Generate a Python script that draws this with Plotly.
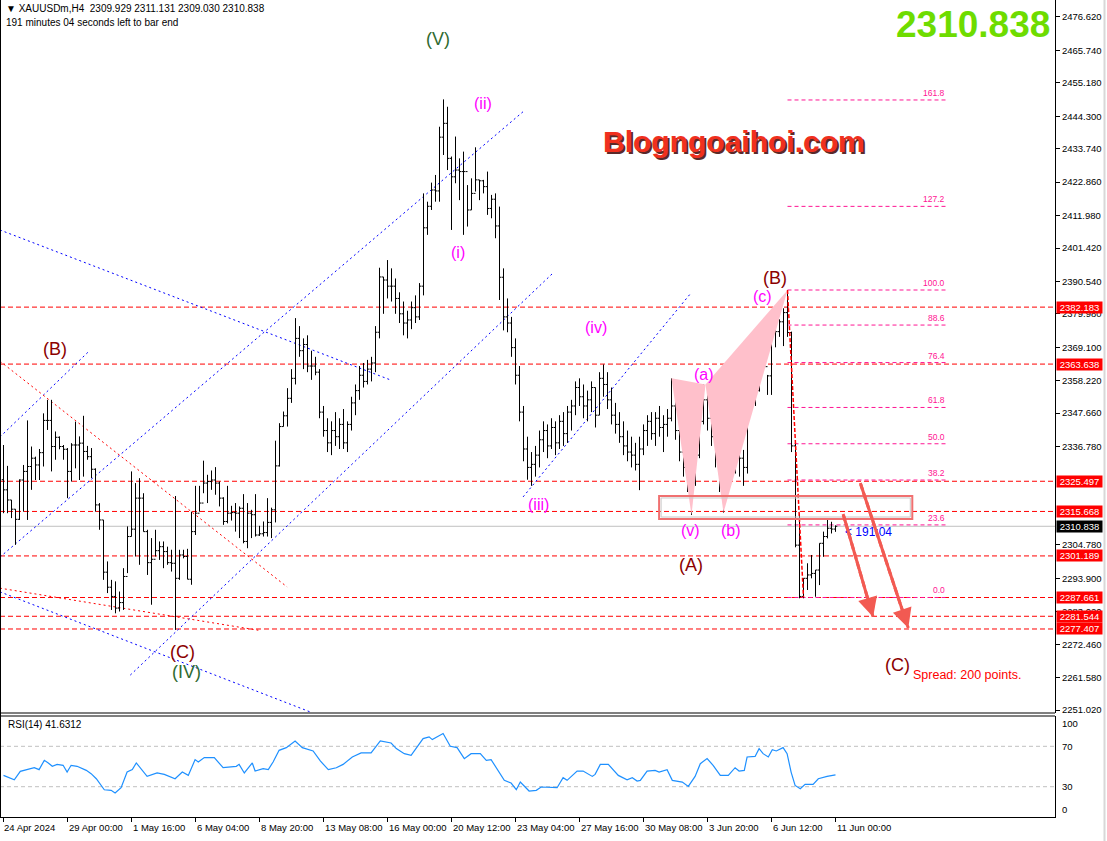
import plotly.graph_objects as go

# ---------------- DATA ----------------
highs = [2337.3, 2330.5, 2319.4, 2316.4, 2326.1, 2330.8, 2345.3, 2336.8, 2333.5, 2336.0,
         2347.6, 2352.0, 2352.0, 2341.7, 2340.1, 2337.3, 2336.3, 2337.9, 2344.9, 2340.1,
         2346.8, 2337.0, 2336.3, 2329.7, 2318.4, 2312.9, 2299.4, 2293.4, 2292.9, 2289.6,
         2297.2, 2310.8, 2328.7, 2324.9, 2326.5, 2321.6, 2309.7, 2307.0, 2309.7, 2305.9,
         2305.9, 2304.2, 2303.2, 2320.7, 2303.2, 2303.2, 2303.5, 2315.6, 2324.0, 2324.0,
         2332.2, 2327.6, 2329.0, 2330.1, 2325.4, 2320.3, 2324.0, 2317.5, 2318.4, 2317.3,
         2321.3, 2318.4, 2316.2, 2321.3, 2311.0, 2312.4, 2320.0, 2316.9, 2338.7, 2344.4,
         2348.2, 2355.8, 2362.0, 2378.6, 2376.0, 2372.0, 2373.0, 2368.0, 2366.0, 2362.0,
         2350.0, 2346.0, 2345.0, 2348.0, 2346.0, 2349.0, 2345.0, 2353.0, 2357.0, 2363.0,
         2364.0, 2365.0, 2366.0, 2376.0, 2395.0, 2392.0, 2397.5, 2394.8, 2391.5, 2387.0,
         2384.0, 2381.0, 2384.0, 2386.0, 2390.0, 2419.2, 2416.5, 2422.7, 2425.2, 2440.9,
         2449.8, 2447.4, 2431.2, 2437.7, 2430.6, 2432.8, 2421.9, 2424.1, 2434.2, 2423.6,
         2423.6, 2426.3, 2418.7, 2419.2, 2414.9, 2394.8, 2385.0, 2379.0, 2372.0, 2363.0,
         2350.0, 2340.0, 2335.0, 2337.0, 2342.0, 2345.0, 2344.0, 2346.0, 2345.0, 2347.0,
         2348.0, 2350.0, 2352.0, 2358.0, 2359.0, 2357.0, 2355.0, 2358.0, 2356.0, 2361.0,
         2363.5, 2361.0, 2356.0, 2351.0, 2348.0, 2345.0, 2342.0, 2340.0, 2338.0, 2340.0,
         2344.0, 2347.0, 2348.0, 2348.0, 2350.0, 2347.0, 2349.0, 2359.0, 2352.0, 2345.0,
         2338.0, 2334.0, 2331.0, 2337.0, 2347.0, 2357.0, 2355.0, 2351.0, 2345.0, 2337.0,
         2332.0, 2335.0, 2341.0, 2339.0, 2338.0, 2335.7, 2357.4, 2356.8, 2357.0, 2374.7,
         2368.4, 2360.1, 2378.5, 2377.7, 2378.2, 2381.8, 2387.7, 2374.2, 2338.9, 2315.0,
         2293.9, 2298.8, 2301.5, 2296.6, 2305.3, 2309.1, 2313.4, 2312.3, 2311.131]
lows = [2315.1, 2315.1, 2313.5, 2304.8, 2312.9, 2315.6, 2312.9, 2322.7, 2325.9, 2325.9,
        2330.3, 2342.2, 2328.7, 2332.5, 2335.9, 2332.5, 2320.0, 2325.4, 2329.7, 2325.9,
        2327.0, 2332.5, 2326.5, 2315.6, 2309.7, 2293.4, 2289.1, 2283.6, 2282.5, 2283.1,
        2283.6, 2295.6, 2307.5, 2301.0, 2298.3, 2309.1, 2295.0, 2285.3, 2301.0, 2299.9,
        2297.2, 2298.3, 2296.1, 2277.1, 2293.4, 2300.4, 2293.6, 2291.8, 2308.0, 2315.6,
        2321.6, 2318.4, 2322.7, 2321.1, 2317.3, 2311.3, 2311.8, 2312.7, 2309.1, 2307.0,
        2305.3, 2303.7, 2307.0, 2307.5, 2307.7, 2307.5, 2307.5, 2307.0, 2312.1, 2330.3,
        2343.3, 2343.3, 2351.0, 2357.0, 2366.0, 2362.0, 2361.0, 2358.5, 2360.0, 2346.0,
        2340.0, 2335.0, 2334.0, 2337.0, 2336.0, 2336.0, 2335.0, 2342.0, 2347.0, 2352.0,
        2356.0, 2357.0, 2358.0, 2361.0, 2372.0, 2380.0, 2385.0, 2384.0, 2380.0, 2377.0,
        2373.0, 2372.0, 2375.0, 2377.0, 2378.0, 2386.0, 2405.7, 2413.8, 2416.5, 2416.5,
        2431.7, 2426.8, 2407.3, 2422.5, 2417.0, 2405.7, 2408.4, 2413.8, 2419.8, 2417.0,
        2419.2, 2412.2, 2411.1, 2404.6, 2384.5, 2374.6, 2374.0, 2366.0, 2357.0, 2345.0,
        2332.0, 2326.0, 2324.0, 2327.0, 2330.0, 2335.0, 2333.0, 2336.0, 2334.0, 2336.0,
        2337.0, 2338.0, 2342.0, 2347.0, 2350.0, 2346.0, 2345.0, 2348.0, 2343.0, 2347.0,
        2353.0, 2349.0, 2344.0, 2341.0, 2338.0, 2334.0, 2332.0, 2330.0, 2329.0, 2322.6,
        2334.0, 2337.0, 2339.0, 2337.0, 2340.0, 2335.0, 2340.0, 2345.0, 2339.0, 2332.0,
        2327.0, 2322.0, 2314.5, 2324.0, 2333.0, 2344.0, 2342.0, 2337.0, 2330.0, 2322.0,
        2315.3, 2325.0, 2329.0, 2328.0, 2327.0, 2324.0, 2328.0, 2352.0, 2350.0, 2354.7,
        2361.7, 2353.6, 2353.6, 2369.1, 2372.5, 2369.5, 2372.5, 2335.0, 2304.0, 2287.4,
        2287.4, 2290.1, 2293.9, 2287.9, 2291.7, 2300.9, 2306.9, 2308.5, 2309.03]
closes = [2322.7, 2319.4, 2316.4, 2313.1, 2325.9, 2328.7, 2330.3, 2333.0, 2330.8, 2334.8,
          2345.3, 2345.3, 2336.8, 2339.8, 2336.8, 2335.9, 2328.7, 2337.3, 2337.3, 2337.9,
          2335.2, 2333.5, 2329.4, 2317.8, 2312.9, 2295.9, 2291.0, 2288.0, 2284.2, 2286.0,
          2294.5, 2307.5, 2309.9, 2320.0, 2320.0, 2309.1, 2299.0, 2300.1, 2302.9, 2304.2,
          2302.6, 2299.0, 2298.8, 2293.9, 2301.5, 2301.0, 2293.6, 2309.1, 2315.1, 2318.4,
          2324.9, 2325.4, 2325.9, 2324.9, 2320.0, 2312.4, 2315.1, 2315.3, 2315.1, 2316.7,
          2305.9, 2315.1, 2314.6, 2308.0, 2308.4, 2308.8, 2312.1, 2316.2, 2330.5, 2343.3,
          2346.8, 2352.5, 2359.0, 2372.0, 2368.0, 2370.0, 2363.0, 2363.0, 2361.0, 2348.0,
          2342.0, 2338.0, 2342.0, 2340.0, 2344.0, 2338.0, 2344.0, 2351.0, 2355.0, 2360.0,
          2358.0, 2362.0, 2364.0, 2374.0, 2392.0, 2391.0, 2389.0, 2389.0, 2385.0, 2380.0,
          2377.0, 2378.0, 2382.0, 2379.0, 2389.0, 2408.0, 2415.0, 2420.3, 2420.0, 2437.5,
          2442.0, 2430.6, 2424.6, 2426.8, 2426.3, 2426.3, 2413.8, 2419.2, 2423.6, 2423.3,
          2421.4, 2414.3, 2417.3, 2408.6, 2391.9, 2379.0, 2377.0, 2369.0, 2360.0, 2348.0,
          2336.0, 2330.0, 2331.0, 2334.0, 2339.0, 2342.0, 2337.0, 2343.0, 2338.0, 2345.0,
          2341.0, 2348.0, 2350.0, 2356.0, 2353.0, 2350.0, 2352.0, 2356.0, 2347.0, 2359.0,
          2357.0, 2352.0, 2347.0, 2344.0, 2340.0, 2337.0, 2335.0, 2334.0, 2331.0, 2336.0,
          2342.0, 2345.0, 2341.0, 2346.0, 2343.0, 2344.0, 2346.0, 2350.0, 2342.0, 2335.0,
          2330.0, 2328.0, 2325.0, 2334.0, 2345.0, 2352.0, 2346.0, 2340.0, 2333.0, 2325.0,
          2327.0, 2332.0, 2337.0, 2333.0, 2333.0, 2330.0, 2353.6, 2354.0, 2355.0, 2368.4,
          2362.8, 2359.8, 2374.5, 2374.2, 2377.4, 2380.4, 2373.9, 2337.0, 2304.7, 2288.0,
          2293.9, 2295.0, 2295.5, 2296.6, 2305.3, 2307.5, 2310.2, 2309.929, 2310.838]
first_open = 2326.0
opens = [first_open] + closes[:-1]
bars = list(range(len(closes)))

# RSI(14) line, read as (bar index, value) points
rsi_bar = [0, 2.7, 4.2, 6.4, 7.7, 8.9, 10.2, 11.2, 12.2, 13.4, 14.9, 15.9, 16.9, 18.4, 20.7,
           21.9, 23.2, 25.2, 26.9, 27.9, 29.4, 30.9, 32.2, 33.2, 34.4, 35.9, 38.4, 40.2, 42.9,
           44.7, 46.2, 47.9, 48.7, 50.2, 52.7, 54.9, 58.2, 58.9, 60.2, 62.2, 62.9, 64.9, 66.2,
           67.4, 68.9, 70.7, 72.9, 74.7, 77.4, 79.2, 81.2, 83.2, 84.9, 87.2, 89.4, 91.9, 94.2,
           95.7, 96.9, 98.2, 100.2, 101.9, 104.9, 106.4, 107.2, 109.9, 111.7, 113.4, 115.2,
           116.9, 119.2, 120.7, 121.9, 125.2, 126.9, 128.2, 129.2, 131.4, 133.2, 134.4, 138.4,
           139.9, 140.9, 143.4, 144.9, 147.2, 147.9, 149.2, 151.2, 153.7, 155.9, 157.2, 158.4,
           159.2, 160.9, 162.9, 163.9, 165.9, 167.2, 169.7, 171.2, 172.9, 174.2, 175.9, 177.4,
           179.2, 181.2, 182.9, 183.9, 185.2, 185.9, 187.9, 188.9, 189.9, 191.2, 192.2, 193.2,
           194.9, 195.9, 196.9, 197.9, 199.2, 200.4, 202.4, 203.7, 205.9, 208]
rsi_val = [41.2, 36.9, 45.2, 47.9, 48.8, 46.9, 56.1, 53.5, 50.2, 52.1, 51.2, 44.5, 51.2, 50.2,
           46.2, 42.9, 37.9, 27.0, 26.4, 23.7, 29.0, 44.5, 46.9, 53.5, 47.9, 40.2, 43.6, 42.2,
           37.9, 44.5, 41.2, 56.8, 54.5, 58.8, 58.8, 48.8, 50.2, 52.1, 43.6, 53.5, 45.5, 47.9,
           46.9, 54.5, 66.0, 68.7, 75.3, 68.7, 65.4, 55.5, 46.9, 48.8, 52.1, 59.4, 63.4, 63.4,
           75.3, 74.3, 73.3, 67.7, 62.7, 61.1, 77.6, 79.3, 76.6, 82.6, 70.0, 68.7, 57.8, 62.7,
           62.7, 56.1, 56.8, 36.3, 33.6, 27.0, 34.6, 25.7, 26.4, 29.7, 29.0, 38.9, 36.3, 45.5,
           45.5, 40.2, 42.2, 52.1, 52.1, 41.2, 36.9, 38.9, 35.6, 36.3, 45.5, 46.2, 44.5, 46.9,
           36.3, 34.6, 30.3, 40.2, 52.8, 57.8, 51.2, 41.2, 41.2, 48.8, 45.5, 46.2, 59.4, 60.0,
           67.7, 62.7, 59.4, 66.7, 65.4, 68.7, 62.7, 44.5, 31.3, 28.0, 32.3, 32.3, 37.9, 40.2,
           41.6312]

price_ticks = [2476.620, 2465.740, 2455.180, 2444.300, 2433.740, 2422.860, 2411.980, 2401.420,
               2390.540, 2379.980, 2369.100, 2358.220, 2347.660, 2336.780, 2304.780, 2293.900,
               2283.020, 2272.460, 2261.580, 2251.020]
price_levels = [2382.183, 2363.638, 2325.497, 2315.668, 2301.189, 2287.661, 2281.544, 2277.407]
last_price = 2310.838

time_tick_bars = [0, 16, 32, 48, 64, 80, 96, 112, 128, 144, 160, 176, 192, 208]
time_tick_labels = ["24 Apr 2024", "29 Apr 00:00", "1 May 16:00", "6 May 04:00", "8 May 20:00",
                    "13 May 08:00", "16 May 00:00", "20 May 12:00", "23 May 04:00", "27 May 16:00",
                    "30 May 08:00", "3 Jun 20:00", "6 Jun 12:00", "11 Jun 00:00"]

fib_pct = [161.8, 127.2, 100.0, 88.6, 76.4, 61.8, 50.0, 38.2, 23.6, 0.0]
fib_low, fib_high = 2287.66, 2387.75
fib_x0, fib_x1 = 196, 235.9

# Harmonic pattern points X, A, B, C, D (bar index, price)
harm_x = [167, 172, 175.5, 180, 196]
harm_p = [2359.0, 2314.5, 2357.0, 2315.3, 2387.7]

# Trend lines ((bar0, price0), (bar1, price1))
blue_lines = [((-0.9, 2407.3), (96.7, 2358.5)),
              ((-0.9, 2339.9), (21.2, 2367.6)),
              ((-0.9, 2300.8), (130.4, 2446.35)),
              ((31.7, 2262.4), (137.4, 2393.3)),
              ((-0.9, 2289.5), (76.7, 2250.4)),
              ((129.9, 2320.4), (171.7, 2386.5))]
red_dot_lines = [((-0.9, 2364.6), (70.9, 2291.1)),
                 ((-0.9, 2290.7), (63.7, 2277.0))]
red_trend = ((196, 2387.7), (200, 2287.7))
zone_box = (163.9, 227.2, 2313.2, 2320.7)
arrows = [((209.9, 2314.85), (217.4, 2281.3)), ((214.2, 2324.9), (226.2, 2277.7))]

wave_labels = [("(V)", 108.7, 2469.5, "#2f6a2f", 18), ("(IV)", 45.7, 2263.4, "#2f6a2f", 18),
               ("(ii)", 119.9, 2448.6, "#ff00ff", 16), ("(i)", 113.7, 2399.8, "#ff00ff", 16),
               ("(iv)", 148.2, 2375.4, "#ff00ff", 16), ("(iii)", 133.7, 2317.8, "#ff00ff", 16),
               ("(v)", 171.7, 2309.4, "#ff00ff", 16), ("(b)", 181.9, 2309.4, "#ff00ff", 16),
               ("(a)", 175.2, 2360.1, "#ff00ff", 16), ("(c)", 189.7, 2385.5, "#ff00ff", 16),
               ("(B)", 192.9, 2391.6, "#8b0000", 18), ("(A)", 171.9, 2298.4, "#8b0000", 18),
               ("(B)", 12.9, 2368.5, "#8b0000", 18), ("(C)", 44.7, 2269.9, "#8b0000", 18),
               ("(C)", 223.4, 2265.7, "#8b0000", 18)]

# ---------------- FIGURE ----------------
FONT = "Liberation Sans, Arial, sans-serif"
W, H = 1107, 841
ML, MR, MT, MB = 0, 52, 0, 24
PW, PH = W - ML - MR, H - MT - MB


def px(xpix):
    return (xpix - ML) / PW


def py(ypix):
    return (PH - (ypix - MT)) / PH


fig = go.Figure()

# harmonic pattern triangles
for idx in ([0, 1, 2, 0], [2, 3, 4, 2]):
    fig.add_trace(go.Scatter(x=[harm_x[k] for k in idx], y=[harm_p[k] for k in idx],
                             fill="toself", fillcolor="#ffc0cb", mode="lines",
                             line=dict(width=0, color="#ffc0cb"), hoverinfo="skip"))

fig.add_trace(go.Ohlc(x=bars, open=opens, high=highs, low=lows, close=closes,
                      increasing=dict(line=dict(color="black", width=1)),
                      decreasing=dict(line=dict(color="black", width=1)),
                      tickwidth=0.45, hoverinfo="skip"))

fig.add_trace(go.Scatter(x=rsi_bar, y=rsi_val, yaxis="y2", mode="lines",
                         line=dict(color="#1e90ff", width=1.2), hoverinfo="skip"))

shapes = []
# current price line
shapes.append(dict(type="line", xref="paper", yref="y", x0=0, x1=1, y0=last_price, y1=last_price,
                   line=dict(color="#c0c0c0", width=1), layer="below"))
for lv in price_levels:
    shapes.append(dict(type="line", xref="paper", yref="y", x0=0, x1=1, y0=lv, y1=lv,
                       line=dict(color="#ff0000", width=1, dash="5px,3px"), layer="below"))
for (a, b) in blue_lines:
    shapes.append(dict(type="line", xref="x", yref="y", x0=a[0], y0=a[1], x1=b[0], y1=b[1],
                       line=dict(color="#0000ff", width=1, dash="2px,3px"), layer="below"))
for (a, b) in red_dot_lines:
    shapes.append(dict(type="line", xref="x", yref="y", x0=a[0], y0=a[1], x1=b[0], y1=b[1],
                       line=dict(color="#ff0000", width=1, dash="2px,3px"), layer="below"))
shapes.append(dict(type="line", xref="x", yref="y", x0=red_trend[0][0], y0=red_trend[0][1],
                   x1=red_trend[1][0], y1=red_trend[1][1],
                   line=dict(color="#ff0000", width=1.5, dash="4px,2px")))
for pct in fib_pct:
    lv = fib_low + pct / 100.0 * (fib_high - fib_low)
    shapes.append(dict(type="line", xref="x", yref="y", x0=fib_x0, x1=fib_x1, y0=lv, y1=lv,
                       line=dict(color="#ff1493", width=1, dash="4px,3px"), layer="below"))
# zone rectangle
bx0, bx1, by0, by1 = zone_box
shapes.append(dict(type="rect", xref="x", yref="y", x0=bx0, x1=bx1, y0=by0, y1=by1,
                   line=dict(color="#f07070", width=2)))
shapes.append(dict(type="rect", xref="x", yref="y", x0=bx0 + 0.5, x1=bx1 - 0.5,
                   y0=by0 + 0.65, y1=by1 - 0.65, line=dict(color="#c8c8c8", width=1)))
# arrows (dashed shafts)
for (a, b) in arrows:
    shapes.append(dict(type="line", xref="x", yref="y", x0=a[0], y0=a[1], x1=b[0], y1=b[1],
                       line=dict(color="#f25a52", width=3, dash="7px,3px")))
# frame lines
shapes.append(dict(type="line", xref="paper", yref="paper", x0=px(0.5), x1=px(0.5), y0=0, y1=1,
                   line=dict(color="black", width=1)))
shapes.append(dict(type="line", xref="paper", yref="paper", x0=0, x1=1, y0=py(713), y1=py(713),
                   line=dict(color="black", width=1)))
shapes.append(dict(type="line", xref="paper", yref="paper", x0=0, x1=1, y0=py(716), y1=py(716),
                   line=dict(color="black", width=1)))
# RSI 70/30 levels
for lv in (70, 30):
    shapes.append(dict(type="line", xref="paper", yref="y2", x0=0, x1=1, y0=lv, y1=lv,
                       line=dict(color="#c0c0c0", width=1, dash="4px,3px"), layer="below"))
shapes.append(dict(type="line", xref="paper", yref="paper", x0=px(1104.5), x1=px(1104.5),
                   y0=py(841), y1=1, line=dict(color="#d8d8d8", width=2)))

ann = []
# right price labels
for lv in price_levels:
    ann.append(dict(xref="paper", yref="y", x=px(1056), y=lv, xanchor="left", yanchor="middle",
                    text=f"{lv:.3f}", showarrow=False, bgcolor="#ff0000", width=45, height=11,
                    borderpad=0, font=dict(color="white", size=9.5, family=FONT)))
ann.append(dict(xref="paper", yref="y", x=px(1056), y=last_price, xanchor="left", yanchor="middle",
                text=f"{last_price:.3f}", showarrow=False, bgcolor="black", width=45, height=11,
                borderpad=0, font=dict(color="white", size=9.5, family=FONT)))
# time axis labels
for b, t in zip(time_tick_bars, time_tick_labels):
    ann.append(dict(xref="x", yref="paper", x=b, y=0, xanchor="left", yanchor="top",
                    xshift=-2 if b == 0 else -1, yshift=-3, text=t, showarrow=False,
                    font=dict(size=9.5, family=FONT, color="black")))
# fib labels
for pct in fib_pct:
    lv = fib_low + pct / 100.0 * (fib_high - fib_low)
    ann.append(dict(xref="x", yref="y", x=fib_x1, y=lv, xanchor="right", yanchor="bottom",
                    yshift=0, text=f"{pct:.1f}", showarrow=False,
                    font=dict(size=8.5, family=FONT, color="#ff1493")))
# wave labels
for (t, bx, pr, col, sz) in wave_labels:
    ann.append(dict(xref="x", yref="y", x=bx, y=pr, text=t, showarrow=False,
                    font=dict(size=sz, family=FONT, color=col)))
ann.append(dict(xref="x", yref="y", x=226.9, y=2262.4, xanchor="left", text="Spread: 200 points.",
                showarrow=False, font=dict(size=12.5, family=FONT, color="#ff0000")))
ann.append(dict(xref="x", yref="y", x=209.9, y=2308.97, xanchor="left", text="< 191:04",
                showarrow=False, font=dict(size=12, family=FONT, color="#0000ff")))
# arrow heads
for (a, b) in arrows:
    ann.append(dict(xref="x", yref="y", x=b[0], y=b[1], ax=a[0], ay=a[1], axref="x", ayref="y",
                    text="", showarrow=True, arrowhead=2, arrowsize=1.3, arrowwidth=3,
                    arrowcolor="#f25a52", standoff=0))
# header
ann.append(dict(xref="paper", yref="paper", x=px(4), y=py(9), xanchor="left", yanchor="middle",
                text="\u25bc XAUUSDm,H4  2309.929 2311.131 2309.030 2310.838", showarrow=False,
                font=dict(size=10, family=FONT, color="black")))
ann.append(dict(xref="paper", yref="paper", x=px(4), y=py(22), xanchor="left", yanchor="middle",
                text="191 minutes 04 seconds left to bar end", showarrow=False,
                font=dict(size=10, family=FONT, color="black")))
ann.append(dict(xref="paper", yref="paper", x=px(6), y=py(724), xanchor="left", yanchor="middle",
                text="RSI(14) 41.6312", showarrow=False,
                font=dict(size=10, family=FONT, color="black")))
# big price
ann.append(dict(xref="paper", yref="paper", x=px(1052), y=py(24), xanchor="right", yanchor="middle",
                text="<b>2310.838</b>", showarrow=False,
                font=dict(size=37, family=FONT, color="#6edc00")))
# watermark
ann.append(dict(xref="paper", yref="paper", x=px(736), y=py(144), xanchor="center", yanchor="middle",
                text="<b>Blogngoaihoi.com</b>", showarrow=False,
                font=dict(size=30, family=FONT, color="#5a2a2a")))
ann.append(dict(xref="paper", yref="paper", x=px(734), y=py(142), xanchor="center", yanchor="middle",
                text="<b>Blogngoaihoi.com</b>", showarrow=False,
                font=dict(size=30, family=FONT, color="#f0301e")))
# RSI scale labels
for lab, yv in (("100", 93), ("70", 70), ("30", 30), ("0", 7.5)):
    ann.append(dict(xref="paper", yref="y2", x=px(1060), y=yv, xanchor="left", yanchor="middle",
                    text=lab, showarrow=False, font=dict(size=9.5, family=FONT, color="black")))

fig.update_layout(
    width=W, height=H,
    margin=dict(l=ML, r=MR, t=MT, b=MB),
    paper_bgcolor="white", plot_bgcolor="white",
    showlegend=False, hovermode=False,
    font=dict(family=FONT, size=9.5, color="black"),
    xaxis=dict(range=[-0.875, 262.875], domain=[0, 1], anchor="y2", showgrid=False, zeroline=False,
               tickvals=time_tick_bars, ticktext=[""] * len(time_tick_bars), ticks="outside",
               ticklen=4, tickcolor="black", showline=True, linecolor="black", linewidth=1,
               rangeslider=dict(visible=False), fixedrange=True),
    yaxis=dict(domain=[py(713), 1], range=[2250.06, 2482.15], side="right", anchor="x",
               showgrid=False, zeroline=False, tickvals=price_ticks,
               ticktext=[f"{v:.3f}" for v in price_ticks], ticks="outside", ticklen=4,
               tickcolor="black", showline=True, linecolor="black", linewidth=1,
               tickfont=dict(size=9.5, family=FONT, color="black"), fixedrange=True),
    yaxis2=dict(domain=[0, py(716)], range=[0, 100], side="right", anchor="x", showgrid=False,
                zeroline=False, showticklabels=False, ticks="", showline=True, linecolor="black",
                linewidth=1, fixedrange=True),
    shapes=shapes, annotations=ann,
)

fig.write_html("out.html", config={"displayModeBar": False},
               post_script="document.body.style.margin='0';document.body.style.overflow='hidden';")
